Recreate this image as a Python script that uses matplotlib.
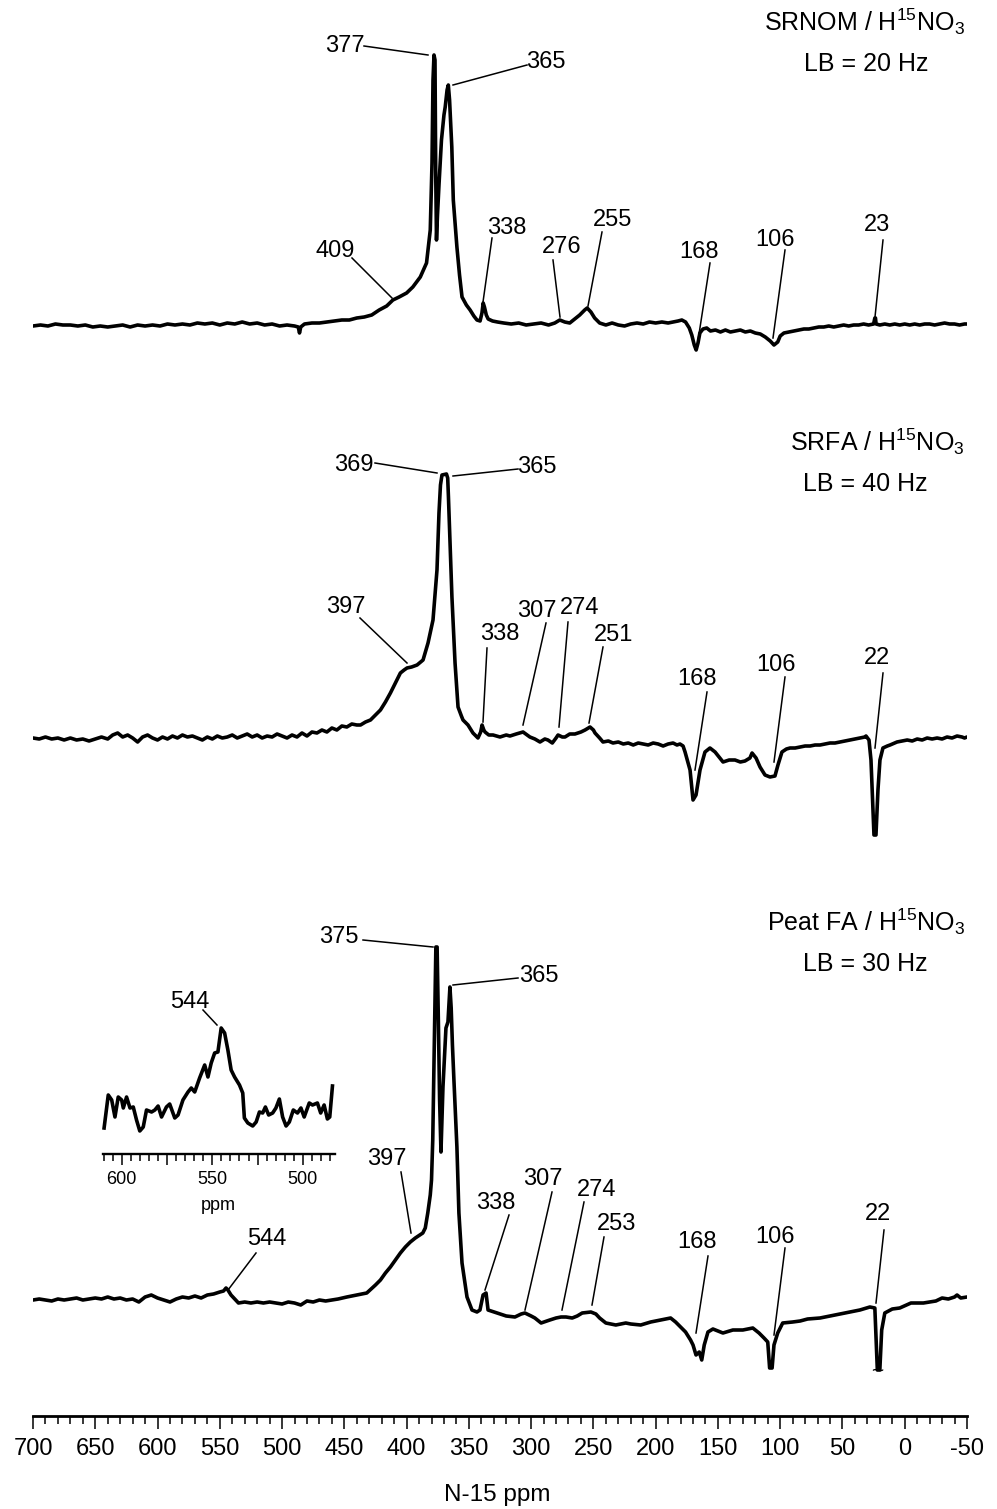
import numpy as np
import matplotlib
matplotlib.use("Agg")
import matplotlib.pyplot as plt
from matplotlib.ticker import MultipleLocator, FuncFormatter

plt.rcParams["font.family"] = ["Liberation Sans Narrow", "Liberation Sans", "DejaVu Sans"]
plt.rcParams["axes.unicode_minus"] = False
plt.rcParams["mathtext.fontset"] = "custom"
plt.rcParams["mathtext.rm"] = "Liberation Sans"
plt.rcParams["mathtext.it"] = "Liberation Sans"

# ---- spectra: (ppm, intensity above own baseline, arbitrary units) ----
srnom = [
    (700, -1), (694, 0), (688, -1), (682, 1), (676, 0), (670, 0), (664, -1), (658, 0),
    (652, -2), (646, -1), (640, -2), (634, -1), (628, 0), (622, -2), (616, 0), (610, -1),
    (604, 0), (598, -1), (592, 1), (586, 0), (580, 1), (574, 0), (568, 2), (562, 1),
    (556, 2), (550, 0), (544, 2), (538, 1), (532, 3), (526, 1), (520, 2), (514, 0),
    (508, 1), (502, -1), (496, 0), (490, -1), (487, -2), (486, -8), (485, -2), (482, 1),
    (476, 2), (470, 2), (464, 3), (458, 4), (452, 5), (446, 5), (440, 7), (434, 8),
    (428, 10), (422, 15), (416, 19), (411, 25), (406, 28), (400, 32), (395, 38), (389, 48),
    (384, 62), (381, 95), (379.6, 162), (378.8, 245), (378, 270), (377.2, 265), (376.6, 150),
    (376, 85), (375.2, 110), (374, 140), (372, 185), (370, 210), (369, 218), (367.5, 235),
    (366.5, 240), (365.5, 225), (364.5, 200), (363.7, 178), (362.5, 125), (361, 100),
    (359.6, 78), (357.5, 50), (355.5, 28), (352, 20), (349, 15), (346, 9), (343.5, 5),
    (341, 4), (339.5, 12), (338.5, 22), (337.5, 18), (336, 10), (334.5, 6), (331, 4),
    (327, 3), (322, 2), (316, 1), (310, 2), (304, 0), (298, 1), (292, 2), (286, 0),
    (281, 2), (277, 5), (273, 3), (269, 2), (265, 6), (261, 10), (257, 15), (255, 17),
    (252, 13), (249, 7), (245, 2), (240, 0), (235, 2), (230, 0), (225, -1), (220, 1),
    (215, 2), (210, 1), (205, 3), (200, 2), (195, 3), (190, 2), (186, 3), (182, 4),
    (179, 5), (176, 3), (173, -3), (171, -10), (169, -20), (167.5, -25), (166, -18),
    (164.5, -8), (162, -4), (159, -3), (156, -6), (152, -5), (148, -7), (144, -5),
    (140, -7), (136, -6), (132, -5), (128, -7), (124, -6), (120, -8), (116, -9),
    (112, -12), (108, -16), (105, -20), (102, -17), (100, -11), (97, -8), (93, -7),
    (89, -6), (85, -5), (81, -4), (77, -4), (73, -3), (69, -2), (65, -2), (61, -1),
    (57, -2), (53, -1), (49, 0), (45, -1), (41, 0), (37, 0), (33, 1), (29, 0), (25, 1),
    (24, 7), (23.5, 7), (23, 1), (20, 0), (16, 1), (12, 0), (8, 1), (4, 0), (0, 1),
    (-4, 0), (-8, 1), (-12, 0), (-16, 1), (-20, 1), (-24, 0), (-28, 1), (-32, 2),
    (-36, 1), (-40, 1), (-44, 0), (-48, 1), (-50, 1),
]

srfa = [
    (700, 2), (695, 1), (690, 3), (685, 1), (680, 2), (675, 0), (670, 2), (665, 0),
    (660, 1), (655, -1), (650, 1), (645, 3), (640, 1), (636, 5), (632, 7), (628, 3),
    (624, 5), (620, 2), (616, -2), (612, 3), (608, 5), (604, 2), (600, 0), (596, 3),
    (592, 1), (588, 4), (584, 2), (580, 5), (576, 3), (572, 4), (568, 2), (564, 0),
    (560, 3), (556, 1), (552, 4), (548, 2), (544, 3), (540, 5), (536, 2), (532, 4),
    (528, 6), (524, 3), (520, 5), (516, 2), (512, 4), (508, 3), (504, 6), (500, 4),
    (496, 2), (492, 5), (488, 3), (484, 7), (480, 4), (476, 8), (472, 7), (468, 10),
    (464, 8), (460, 12), (456, 10), (452, 14), (448, 13), (444, 16), (440, 15), (437, 15),
    (433, 18), (429, 20), (425, 25), (421, 30), (417, 38), (413, 47), (409, 57), (405, 67),
    (402, 70), (399.7, 72), (396, 73), (391.6, 75), (386.8, 80), (382.8, 97), (378.8, 120),
    (375.6, 170), (374, 227), (372.8, 255), (371.6, 265), (368, 266), (367, 262),
    (366.4, 243), (365.2, 200), (363.6, 143), (361.1, 77), (358.7, 33), (356, 24),
    (354.7, 20), (350.7, 15), (346.7, 7), (342.7, 2), (340.5, 8), (339.4, 15), (338, 10),
    (337, 8), (334, 5), (330.6, 5), (325, 3), (320, 5), (317, 4), (312, 6), (306.5, 8),
    (301, 3), (297, 1), (292.9, -2), (289, 1), (286.5, 0), (283, -3), (280, 2),
    (278.4, 5), (275, 3), (272.8, 3), (269, 6), (264.8, 6), (260, 8), (256.7, 10),
    (252.7, 13), (250, 10), (248.7, 7), (245, 2), (242.3, -2), (238, -1), (234.3, -3),
    (230, -2), (226, -4), (222, -3), (218, -5), (214, -3), (210, -4), (206, -5),
    (202, -3), (198, -4), (194, -6), (190, -4), (186, -3), (182.9, -5), (180.5, -4),
    (178, -6), (176.4, -12), (172.4, -30), (170, -60), (167.6, -55), (164.4, -30),
    (160.4, -12), (156.4, -8), (152.3, -12), (145.9, -22), (141, -20), (136.3, -20),
    (132, -22), (128.3, -21), (124.3, -18), (122.6, -13), (119.4, -18), (116.2, -27),
    (112.2, -35), (108.2, -37), (104.2, -36), (101.8, -25), (98.6, -12), (95, -9),
    (92.1, -8), (88, -8), (84.1, -7), (80, -6), (76, -6), (72, -5), (68, -5), (64, -4),
    (60, -3), (56, -3), (52, -2), (48, -1), (44, 0), (40, 1), (36, 2), (32, 3),
    (31.1, 4), (28.7, 0), (27.1, -20), (25.5, -70), (24.7, -95), (23.1, -95),
    (21.5, -50), (19.9, -20), (17.5, -8), (14, -6), (11.8, -5), (8, -3), (6.2, -2),
    (2, -1), (-2, 0), (-6, -1), (-10, 1), (-14, 0), (-18, 2), (-22, 1), (-26, 2),
    (-30, 1), (-34, 3), (-38, 2), (-42, 4), (-46, 3), (-48, 2), (-50, 3),
]

peat_fa = [
    (700, 0), (695, 1), (690, 0), (685, -1), (680, 1), (675, 0), (670, 1), (665, 2),
    (660, 0), (655, 1), (650, 2), (645, 1), (640, 3), (635, 1), (630, 2), (625, 0),
    (620, 1), (615, -2), (610, 3), (605, 5), (600, 2), (595, 0), (590, -2), (585, 1),
    (580, 3), (575, 2), (570, 4), (565, 2), (560, 5), (555, 6), (550, 8), (547, 9),
    (545, 12), (543.5, 10), (541, 5), (538, 1), (535, -3), (530, -2), (525, -3),
    (520, -2), (515, -3), (510, -2), (505, -3), (500, -4), (495, -2), (490, -3),
    (485, -5), (480, -1), (475, -2), (470, 0), (465, -1), (460, 0), (455, 1), (448, 3),
    (440, 5), (432, 7), (425, 15), (421, 20), (417, 27), (413, 33), (409, 40), (405, 47),
    (401, 53), (397, 58), (393, 62), (387, 67), (385, 72), (383, 87), (381, 105),
    (380, 120), (379, 160), (378.2, 220), (377.2, 300), (376.5, 353), (375.5, 353),
    (374.5, 280), (373.5, 200), (372.4, 148), (370.8, 213), (368.4, 272), (366.8, 278),
    (365.2, 313), (364.2, 292), (363.2, 255), (362, 220), (359.6, 153), (358, 87),
    (355.5, 37), (351.5, 3), (347.5, -10), (343.5, -12), (341.1, -10), (338.6, 5),
    (336.2, 7), (334.6, -10), (327.4, -13), (320, -16), (313, -17), (308, -14),
    (305, -13), (300, -16), (297, -18), (292, -23), (285, -20), (280, -18), (276, -17),
    (272, -17), (267, -18), (263, -16), (259, -13), (252, -12), (248, -14), (245, -18),
    (240, -23), (236, -24), (232, -25), (228, -24), (224, -23), (220, -24), (212, -25),
    (204, -22), (196, -20), (192, -19), (188, -18), (184, -22), (180, -27), (176, -32),
    (172, -40), (170, -45), (167.6, -55), (165, -52), (163, -60), (161, -45), (158, -32),
    (154, -29), (146, -33), (138, -30), (130, -30), (122, -28), (117, -33), (113, -38),
    (110, -42), (108.5, -68), (106.5, -68), (105, -45), (102, -33), (98, -23), (90, -22),
    (84, -21), (78, -19), (68, -18), (60, -16), (52, -14), (44, -12), (36, -10),
    (28, -7), (24, -8), (23, -40), (22, -70), (20, -70), (18.5, -30), (16, -13),
    (10, -9), (4, -8), (-5, -3), (-15, -3), (-25, -1), (-30, 2), (-35, 1), (-40, 3),
    (-42, 5), (-45, 2), (-50, 3),
]

# expanded 610-483 ppm region of the Peat FA spectrum
peat_inset = [
    (609.7, -15), (607.4, 18), (605.5, 13), (603.7, -4), (601.9, 16), (600, 13),
    (599.1, 5), (597.3, 16), (595.4, 5), (593.6, 6), (591.8, -7), (590, -18),
    (588.1, -14), (586.3, 3), (583.5, 1), (581.7, 3), (579.9, 7), (578, -4),
    (575.3, 6), (573.5, 9), (570.7, -5), (568.9, -2), (566.2, 13), (563.4, 21),
    (561.6, 25), (559.7, 21), (557, 35), (554.2, 48), (552.4, 36), (550.6, 50),
    (548.7, 60), (546.9, 61), (545.1, 85), (543.2, 80), (541.4, 63), (539.6, 43),
    (537.7, 36), (535, 28), (533.2, 20), (532.3, -5), (530.4, -10), (527.7, -13),
    (525.8, -9), (524, 1), (522.2, 0), (520.7, 6), (518.9, -2), (516.7, 0),
    (514.9, 5), (513, 14), (511.2, -4), (509.3, -13), (507.5, -9), (505.3, 3),
    (503, 0), (501.1, 5), (499.3, -4), (496.5, 10), (494.7, 8), (492, 10),
    (490.2, 0), (488.3, 8), (486.5, -6), (485.2, -4), (483.7, 27),
]

titles = ["SRNOM / H$^{\\mathrm{15}}$NO$_{\\mathrm{3}}$",
          "SRFA / H$^{\\mathrm{15}}$NO$_{\\mathrm{3}}$",
          "Peat FA / H$^{\\mathrm{15}}$NO$_{\\mathrm{3}}$"]
line_broadening = ["LB = 20 Hz", "LB = 40 Hz", "LB = 30 Hz"]

# ---- layout (pixels of the 997x1509 canvas) ----
W, H = 997, 1509
AX_L, AX_R, AX_B = 33, 967, 1416
baseline_rows = [325, 740, 1300]
title_rows = [31, 451, 931]

# label, text x, text row, leader start x/row, leader end x/row
peak_labels = [
    [("377", 345, 46, 364, 46, 428, 55), ("365", 546, 62, 527, 65, 453, 85),
     ("409", 335, 251, 352, 258, 392, 298), ("338", 507, 228, 492, 238, 483, 302),
     ("276", 562, 247, 553, 260, 560, 317), ("255", 613, 220, 602, 232, 588, 306),
     ("168", 699, 252, 710, 263, 697, 347), ("106", 775, 240, 785, 250, 773, 338),
     ("23", 877, 225, 883, 240, 875, 317)],
    [("369", 354, 465, 375, 463, 437, 473), ("365", 537, 467, 518, 469, 453, 476),
     ("397", 346, 607, 360, 618, 407, 663), ("338", 500, 634, 487, 648, 483, 722),
     ("307", 537, 611, 546, 623, 523, 725), ("274", 580, 608, 568, 622, 559, 727),
     ("251", 614, 635, 603, 647, 589, 723), ("168", 697, 679, 707, 692, 695, 770),
     ("106", 776, 665, 785, 677, 774, 762), ("22", 877, 658, 883, 673, 875, 748)],
    [("375", 339, 937, 363, 940, 433, 947), ("365", 539, 976, 518, 978, 453, 985),
     ("397", 387, 1159, 401, 1172, 411, 1233), ("544", 267, 1239, 256, 1253, 228, 1290),
     ("338", 496, 1203, 509, 1215, 485, 1290), ("307", 543, 1179, 552, 1192, 525, 1310),
     ("274", 597, 1190, 584, 1202, 562, 1310), ("253", 617, 1224, 604, 1237, 592, 1305),
     ("168", 697, 1242, 708, 1256, 696, 1333), ("106", 775, 1237, 785, 1248, 774, 1335),
     ("22", 878, 1214, 884, 1230, 876, 1303), ("544", 190, 1002, 203, 1010, 217, 1025)],
]


def xppm(px):
    return 700 - (px - AX_L) * 750 / (AX_R - AX_L)


def yrow(row):
    return AX_B - row


fig = plt.figure(figsize=(W / 100, H / 100), dpi=100)
ax = fig.add_axes([AX_L / W, 1 - AX_B / H, (AX_R - AX_L) / W, AX_B / H])
ax.set_xlim(700, -50)
ax.set_ylim(0, AX_B)
ax.patch.set_visible(False)
for side in ["left", "right", "top"]:
    ax.spines[side].set_visible(False)
ax.spines["bottom"].set_linewidth(2.0)
ax.set_yticks([])
ax.xaxis.set_major_locator(MultipleLocator(50))
ax.xaxis.set_minor_locator(MultipleLocator(10))
ax.tick_params(axis="x", which="major", length=9, width=1.1, labelsize=17, pad=7)
ax.tick_params(axis="x", which="minor", length=6, width=1.1)

for spec, base in zip([srnom, srfa, peat_fa], baseline_rows):
    ppm, inten = np.array(spec, dtype=float).T
    ax.plot(ppm, inten + yrow(base), color="black", lw=2.6,
            solid_joinstyle="round", solid_capstyle="round")

for group in peak_labels:
    for lab, tx, ty, x0, y0, x1, y1 in group:
        ax.text(xppm(tx), yrow(ty), lab, ha="center", va="center", fontsize=17)
        ax.plot([xppm(x0), xppm(x1)], [yrow(y0), yrow(y1)], color="black", lw=1.1)

# break mark under the truncated 22 ppm signal
ax.text(22, yrow(1371), "~", ha="center", va="center", fontsize=15)

for t, lb, r in zip(titles, line_broadening, title_rows):
    fig.text(965 / W, 1 - r / H, t, ha="right", va="baseline", fontsize=18)
    fig.text(928 / W, 1 - (r + 40) / H, lb, ha="right", va="baseline", fontsize=18)

fig.text(497 / W, 1 - 1495 / H, "N-15 ppm", ha="center", va="center", fontsize=17.5)

# inset
INS_L, INS_R, INS_B, INS_T = 103, 335, 1154, 1020
inset_base = 1113
ins = fig.add_axes([INS_L / W, 1 - INS_B / H, (INS_R - INS_L) / W, (INS_B - INS_T) / H])
ins.set_xlim(610.3, 482.3)
ins.set_ylim(0, INS_B - INS_T)
ins.patch.set_visible(False)
for side in ["left", "right", "top"]:
    ins.spines[side].set_visible(False)
ins.spines["bottom"].set_linewidth(1.7)
ins.set_yticks([])
ins.xaxis.set_major_locator(MultipleLocator(25))
ins.xaxis.set_minor_locator(MultipleLocator(5))
ins.xaxis.set_major_formatter(FuncFormatter(lambda v, p: f"{v:.0f}" if v % 50 == 0 else ""))
ins.tick_params(axis="x", which="major", length=8, width=1.1, labelsize=13, pad=4)
ins.tick_params(axis="x", which="minor", length=5, width=1.1)
ppm_i, int_i = np.array(peat_inset, dtype=float).T
ins.plot(ppm_i, int_i + (INS_B - inset_base), color="black", lw=2.6,
         solid_joinstyle="round", clip_on=False)
fig.text(218 / W, 1 - 1205 / H, "ppm", ha="center", va="center", fontsize=13)

fig.savefig("out.png", dpi=100)
